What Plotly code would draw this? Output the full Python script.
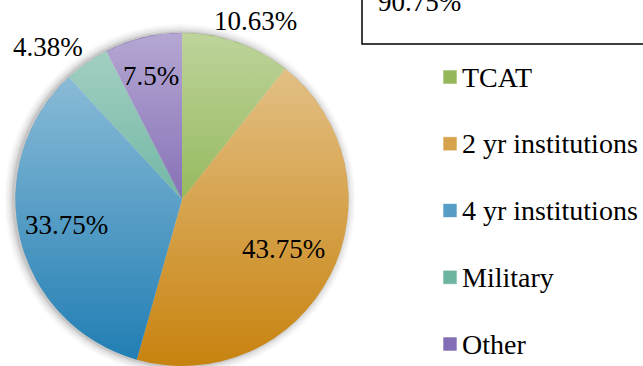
import base64
import plotly.graph_objects as go

# Destination shares of graduates (percent)
categories = ["TCAT", "2 yr institutions", "4 yr institutions", "Military", "Other"]
shares = [10.63, 43.75, 33.75, 4.38, 7.5]
slice_colors = ["#6f9f22", "#c8830f", "#1f7db3", "#3d9c82", "#5a3c9c"]
headline = "90.75%"

W, H = 643, 366
FONT = "'Liberation Serif', 'Times New Roman', Times, 'DejaVu Serif', serif"
FS_LABEL = 27
FS_LEGEND = 28

# pie geometry in pixels
cx, cy, r = 182, 199.5, 166.5


def px(x):
    return x / W


def py(y):
    return (H - y) / H


def tint(hex_color, amount):
    """Blend a colour towards white."""
    rgb = [int(hex_color[i:i + 2], 16) for i in (1, 3, 5)]
    rgb = [round(c + (255 - c) * amount) for c in rgb]
    return "#" + "".join(f"{c:02x}" for c in rgb)


fig = go.Figure()
fig.add_trace(go.Pie(
    labels=categories,
    values=shares,
    sort=False,
    direction="clockwise",
    rotation=0,
    marker=dict(colors=slice_colors, line=dict(width=0)),
    textinfo="none",
    hoverinfo="label+percent",
    showlegend=False,
    domain=dict(x=[px(cx - r), px(cx + r)], y=[py(cy + r), py(cy - r)]),
))

shapes = []
# soft drop shadow around the pie
for grow, alpha in [(9, 0.025), (7, 0.035), (5, 0.045), (3, 0.06), (1.5, 0.08)]:
    shapes.append(dict(
        type="circle", xref="paper", yref="paper", layer="below",
        x0=px(cx - r - grow - 2), x1=px(cx + r + grow - 2),
        y0=py(cy + r + grow), y1=py(cy - r - grow),
        fillcolor=f"rgba(0,0,0,{alpha})", line=dict(width=0),
    ))

# vertical light sheen fading out towards the bottom of the disc
sheen_svg = (
    "<svg xmlns='http://www.w3.org/2000/svg' width='200' height='200' viewBox='0 0 200 200'>"
    "<defs><linearGradient id='g' x1='0' y1='0' x2='0' y2='1'>"
    "<stop offset='0' stop-color='#ffffff' stop-opacity='0.55'/>"
    "<stop offset='1' stop-color='#ffffff' stop-opacity='0'/>"
    "</linearGradient></defs>"
    "<circle cx='100' cy='100' r='100' fill='url(#g)'/></svg>"
)
sheen_src = "data:image/svg+xml;base64," + base64.b64encode(sheen_svg.encode()).decode()

# boxed headline at top right
shapes.append(dict(
    type="rect", xref="paper", yref="paper",
    x0=px(362), x1=1.05, y0=py(44), y1=1.2,
    line=dict(color="black", width=1.5), fillcolor="rgba(0,0,0,0)",
))

annotations = [dict(
    text=headline, xref="paper", yref="paper", x=px(376), y=py(2),
    xanchor="left", yanchor="middle", showarrow=False,
    font=dict(family=FONT, size=FS_LABEL, color="black"),
)]

# percentage labels
label_pos = [(255, 21), (283, 249), (66, 225), (48, 47), (151, 76)]
for v, (lx, ly) in zip(shares, label_pos):
    annotations.append(dict(
        text=f"{v:g}%", xref="paper", yref="paper", x=px(lx), y=py(ly),
        xanchor="center", yanchor="middle", showarrow=False,
        font=dict(family=FONT, size=FS_LABEL, color="black"),
    ))

# legend rows
leg_y0, leg_step = 77, 66.75
for i, (name, col) in enumerate(zip(categories, slice_colors)):
    yy = leg_y0 + i * leg_step
    shapes.append(dict(
        type="rect", xref="paper", yref="paper",
        x0=px(443), x1=px(457), y0=py(yy + 7), y1=py(yy - 7),
        fillcolor=tint(col, 0.25), line=dict(color="rgba(255,255,255,0.6)", width=1),
    ))
    annotations.append(dict(
        text=name, xref="paper", yref="paper", x=px(460), y=py(yy),
        xanchor="left", yanchor="middle", showarrow=False,
        font=dict(family=FONT, size=FS_LEGEND, color="black"),
    ))

fig.update_layout(
    width=W, height=H,
    margin=dict(l=0, r=0, t=0, b=0),
    paper_bgcolor="white",
    plot_bgcolor="white",
    shapes=shapes,
    annotations=annotations,
    images=[dict(
        source=sheen_src, xref="paper", yref="paper",
        x=px(cx - r), y=py(cy - r), sizex=2 * r / W, sizey=2 * r / H,
        xanchor="left", yanchor="top", sizing="stretch", layer="above",
    )],
)

fig.write_html("out.html", include_plotlyjs=True)
